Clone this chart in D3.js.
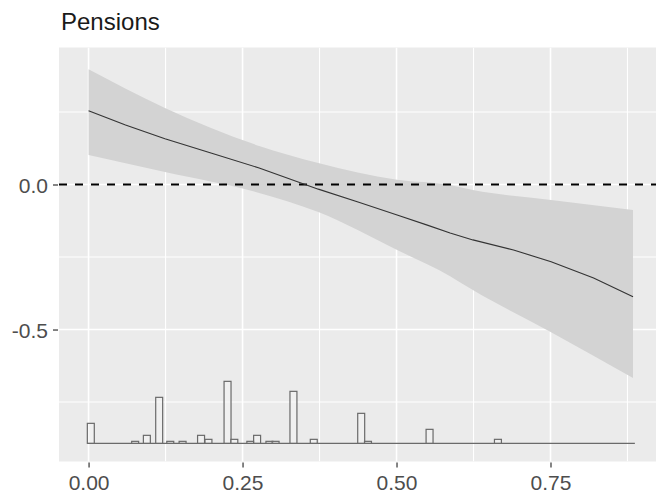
<!DOCTYPE html>
<html>
<head>
<meta charset="utf-8">
<script src="https://cdn.jsdelivr.net/npm/d3@7/dist/d3.min.js"></script>
<style>
  html, body { margin: 0; padding: 0; background: #ffffff; }
  svg { display: block; font-family: "Liberation Sans", Arial, sans-serif; }
</style>
</head>
<body>
<svg id="chart" width="656" height="499"></svg>
<script>
// Marginal effect of the moderator on Pensions, with 95% band
const effectX     = [0, 0.06, 0.124, 0.2, 0.277, 0.32, 0.373, 0.44, 0.501, 0.55, 0.587, 0.624, 0.69, 0.751, 0.82, 0.884];
const effectY     = [0.254, 0.205, 0.158, 0.108, 0.057, 0.024, -0.016, -0.062, -0.105, -0.140, -0.167, -0.191, -0.226, -0.266, -0.322, -0.387];

const bandX       = [0, 0.124, 0.277, 0.373, 0.501, 0.587, 0.624, 0.751, 0.884];
const bandUpper   = [0.397, 0.264, 0.133, 0.074, 0.016, -0.002, -0.019, -0.053, -0.088];
const bandLower   = [0.102, 0.043, -0.029, -0.095, -0.226, -0.316, -0.364, -0.509, -0.667];

// Distribution of the moderator (histogram along the bottom)
const histStart   = [-0.002, 0.070, 0.089, 0.109, 0.127, 0.147, 0.177, 0.189, 0.220, 0.231, 0.257, 0.268, 0.288, 0.298, 0.327, 0.360, 0.437, 0.448, 0.548, 0.659];
const histCount   = [10, 1, 4, 23, 1, 1, 4, 2, 31, 2, 1, 4, 1, 1, 26, 2, 15, 1, 7, 2];
const histBinWidth = 0.0113;
const histRange   = [-0.002, 0.887];

const xTicks      = [0, 0.25, 0.5, 0.75];
const xMinor      = [0.125, 0.375, 0.625, 0.875];
const yTicks      = [0, -0.5];
const yMinor      = [0.25, -0.25, -0.75];
const titleText   = "Pensions";

// plain hyphen for negative numbers
const locale = d3.formatLocale({ decimal: ".", thousands: ",", grouping: [3], currency: ["", ""], minus: "-" });

const svg = d3.select("#chart");

const panel = { left: 59, top: 47.5, right: 656, bottom: 461.5 };

const x = d3.scaleLinear().domain([-0.048, 0.92]).range([panel.left, 655.2]);
const y = d3.scaleLinear().domain([-0.955, 0.472]).range([panel.bottom, 47.6]);

// histogram counts share the panel, stacked up from a baseline near the bottom
const histBase = y(-0.8924);
const hy = d3.scaleLinear().domain([0, 1]).range([histBase, histBase - 2]);

// panel background
svg.append("rect")
  .attr("x", panel.left).attr("y", panel.top)
  .attr("width", panel.right - panel.left).attr("height", panel.bottom - panel.top)
  .attr("fill", "#ebebeb");

svg.append("clipPath").attr("id", "clip")
  .append("rect")
  .attr("x", panel.left).attr("y", panel.top)
  .attr("width", panel.right - panel.left).attr("height", panel.bottom - panel.top);

const g = svg.append("g").attr("clip-path", "url(#clip)");

// grid lines
g.selectAll("line.vminor").data(xMinor).join("line")
  .attr("x1", d => x(d)).attr("x2", d => x(d))
  .attr("y1", panel.top).attr("y2", panel.bottom)
  .attr("stroke", "#ffffff").attr("stroke-width", 1.1);
g.selectAll("line.hminor").data(yMinor).join("line")
  .attr("y1", d => y(d)).attr("y2", d => y(d))
  .attr("x1", panel.left).attr("x2", panel.right)
  .attr("stroke", "#ffffff").attr("stroke-width", 1.1);
g.selectAll("line.vmajor").data(xTicks).join("line")
  .attr("x1", d => x(d)).attr("x2", d => x(d))
  .attr("y1", panel.top).attr("y2", panel.bottom)
  .attr("stroke", "#ffffff").attr("stroke-width", 1.6);
g.selectAll("line.hmajor").data(yTicks).join("line")
  .attr("y1", d => y(d)).attr("y2", d => y(d))
  .attr("x1", panel.left).attr("x2", panel.right)
  .attr("stroke", "#ffffff").attr("stroke-width", 1.6);

// confidence band
const bandData = bandX.map((v, i) => ({ x: v, lo: bandLower[i], hi: bandUpper[i] }));
g.append("path")
  .datum(bandData)
  .attr("d", d3.area().x(d => x(d.x)).y0(d => y(d.lo)).y1(d => y(d.hi)).curve(d3.curveMonotoneX))
  .attr("fill", "#d3d3d3");

// reference line at zero
g.append("line")
  .attr("x1", panel.left).attr("x2", panel.right)
  .attr("y1", y(0)).attr("y2", y(0))
  .attr("stroke", "#000000").attr("stroke-width", 1.8)
  .attr("stroke-dasharray", "8,8");

// estimated effect
const lineData = effectX.map((v, i) => ({ x: v, y: effectY[i] }));
g.append("path")
  .datum(lineData)
  .attr("d", d3.line().x(d => x(d.x)).y(d => y(d.y)))
  .attr("fill", "none")
  .attr("stroke", "#333333").attr("stroke-width", 1.1);

// histogram
g.append("line")
  .attr("x1", x(histRange[0])).attr("x2", x(histRange[1]))
  .attr("y1", histBase).attr("y2", histBase)
  .attr("stroke", "#6a6a6a").attr("stroke-width", 1.3);

const bins = histStart.map((s, i) => ({ s, c: histCount[i] }));
g.selectAll("rect.bin").data(bins).join("rect")
  .attr("class", "bin")
  .attr("x", d => x(d.s))
  .attr("y", d => hy(d.c))
  .attr("width", d => x(d.s + histBinWidth) - x(d.s))
  .attr("height", d => hy(0) - hy(d.c))
  .attr("fill", "#f4f4f4").attr("fill-opacity", 0.6)
  .attr("stroke", "#6a6a6a").attr("stroke-width", 1.2);

// axes
const xAxis = d3.axisBottom(x).tickValues(xTicks).tickFormat(locale.format(".2f")).tickSizeOuter(0).tickSize(5).tickPadding(8);
const yAxis = d3.axisLeft(y).tickValues(yTicks).tickFormat(locale.format(".1f")).tickSizeOuter(0).tickSize(5).tickPadding(5);

const gx = svg.append("g").attr("transform", `translate(0,${panel.bottom + 1})`).call(xAxis);
const gy = svg.append("g").attr("transform", `translate(${panel.left - 1},0)`).call(yAxis);

[gx, gy].forEach(a => {
  a.select(".domain").remove();
  a.selectAll(".tick line").attr("stroke", "#333333").attr("stroke-width", 1.2);
  a.selectAll(".tick text")
    .attr("fill", "#4d4d4d")
    .style("font-family", "'Liberation Sans', Arial, sans-serif")
    .style("font-size", "21px");
});
gy.selectAll(".tick text").attr("dy", "0.36em");

// title
svg.append("text")
  .attr("x", 61).attr("y", 29.5)
  .attr("fill", "#1a1a1a")
  .style("font-size", "24px")
  .text(titleText);
</script>
</body>
</html>
